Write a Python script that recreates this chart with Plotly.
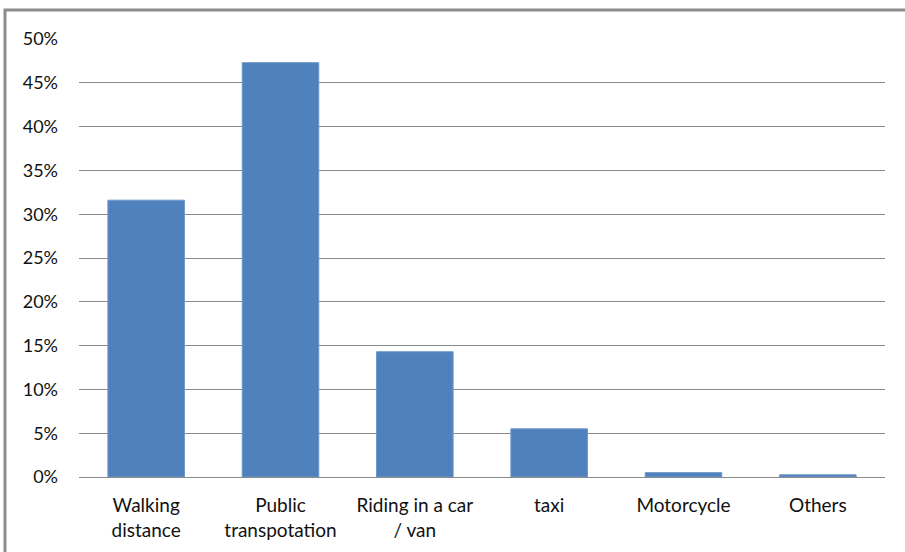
import plotly.graph_objects as go

categories = ["Walking<br>distance", "Public<br>transpotation", "Riding in a car<br>/ van",
              "taxi", "Motorcycle", "Others"]
shares = [0.316, 0.473, 0.143, 0.055, 0.005, 0.0025]
y_ticks = [0, 0.05, 0.10, 0.15, 0.20, 0.25, 0.30, 0.35, 0.40, 0.45, 0.50]

W, H = 905, 552
ml, mr, mt, mb = 79, 20, 39, 75
pw, ph = W - ml - mr, H - mt - mb

fig = go.Figure()
fig.add_bar(x=categories, y=shares, marker=dict(color="#4F81BD", line=dict(color="#6f97c9", width=1)),
            width=0.57)

# chart border (like the Excel chart area), right and bottom edges cut off
fig.add_shape(type="rect", xref="paper", yref="paper",
              x0=(5 - ml) / pw, x1=(915 - ml) / pw,
              y0=(H - mb - 600) / ph, y1=(H - mb - 10) / ph,
              line=dict(color="#8c8c8c", width=3), fillcolor="rgba(0,0,0,0)", layer="below")

fig.update_layout(
    width=W, height=H,
    margin=dict(l=ml, r=mr, t=mt, b=mb),
    plot_bgcolor="white", paper_bgcolor="white",
    font=dict(family="Lato, Open Sans, sans-serif", size=19, color="#111111"),
    showlegend=False,
)
fig.update_yaxes(range=[0, 0.5], tickvals=y_ticks, tickformat=".0%",
                 showgrid=True, gridcolor="#8a8a8a", gridwidth=1,
                 zeroline=False, ticklabelstandoff=20, tickfont=dict(size=18))
fig.update_xaxes(showline=True, linecolor="#8a8a8a", linewidth=1,
                 showgrid=False, ticklabelstandoff=11)

fig.write_html("out.html", config={"displayModeBar": False},
               post_script="document.body.style.margin='0';")
